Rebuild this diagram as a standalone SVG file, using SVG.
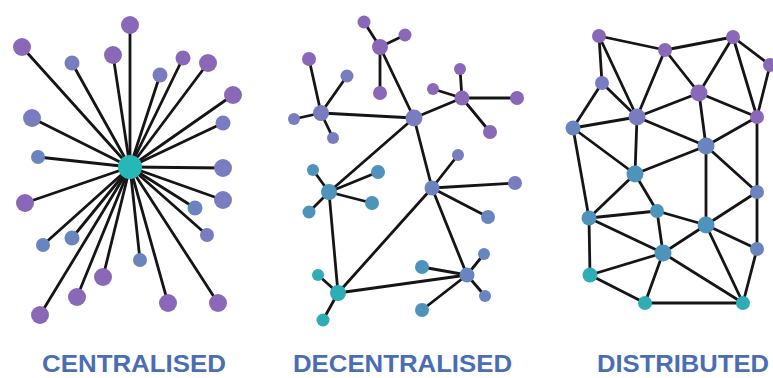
<svg xmlns="http://www.w3.org/2000/svg" width="773" height="378" viewBox="0 0 773 378">
<style>
.e line{stroke:#151515;stroke-width:2.8;stroke-linecap:round}
.p{fill:#8a68b8}
.bp{fill:#7a7cc0}
.b{fill:#6a84c0}
.tb{fill:#4d93bb}
.t{fill:#2fadb6}
.hub{fill:#25b8b5}
.lbl{font-family:"Liberation Sans",Arial,sans-serif;font-weight:bold;font-size:23px;fill:#4a6db5}
</style>
<rect width="773" height="378" fill="#ffffff"/>
<g id="connectors">
<g class="e" id="central-edges">
<line x1="130" y1="167" x2="130" y2="25"/>
<line x1="130" y1="167" x2="22" y2="47"/>
<line x1="130" y1="167" x2="72" y2="63"/>
<line x1="130" y1="167" x2="113" y2="55"/>
<line x1="130" y1="167" x2="160" y2="75"/>
<line x1="130" y1="167" x2="183" y2="58"/>
<line x1="130" y1="167" x2="208" y2="63"/>
<line x1="130" y1="167" x2="233" y2="95"/>
<line x1="130" y1="167" x2="223" y2="123"/>
<line x1="130" y1="167" x2="32" y2="118"/>
<line x1="130" y1="167" x2="38" y2="157"/>
<line x1="130" y1="167" x2="223" y2="168"/>
<line x1="130" y1="167" x2="25" y2="203"/>
<line x1="130" y1="167" x2="223" y2="200"/>
<line x1="130" y1="167" x2="195" y2="208"/>
<line x1="130" y1="167" x2="207" y2="235"/>
<line x1="130" y1="167" x2="43" y2="245"/>
<line x1="130" y1="167" x2="72" y2="238"/>
<line x1="130" y1="167" x2="140" y2="260"/>
<line x1="130" y1="167" x2="103" y2="277"/>
<line x1="130" y1="167" x2="77" y2="297"/>
<line x1="130" y1="167" x2="168" y2="303"/>
<line x1="130" y1="167" x2="218" y2="303"/>
<line x1="130" y1="167" x2="40" y2="315"/>
</g>
<g class="e" id="decentral-edges">
<line x1="380" y1="47" x2="364" y2="22"/>
<line x1="380" y1="47" x2="405" y2="35"/>
<line x1="380" y1="47" x2="380" y2="93"/>
<line x1="380" y1="47" x2="414" y2="118"/>
<line x1="321" y1="113" x2="309" y2="59"/>
<line x1="321" y1="113" x2="347" y2="76"/>
<line x1="321" y1="113" x2="294" y2="119"/>
<line x1="321" y1="113" x2="333" y2="138"/>
<line x1="321" y1="113" x2="414" y2="118"/>
<line x1="414" y1="118" x2="462" y2="98"/>
<line x1="462" y1="98" x2="460" y2="69"/>
<line x1="462" y1="98" x2="433" y2="89"/>
<line x1="462" y1="98" x2="517" y2="98"/>
<line x1="462" y1="98" x2="490" y2="132"/>
<line x1="414" y1="118" x2="329" y2="192"/>
<line x1="414" y1="118" x2="432" y2="188"/>
<line x1="329" y1="192" x2="313" y2="170"/>
<line x1="329" y1="192" x2="378" y2="172"/>
<line x1="329" y1="192" x2="372" y2="203"/>
<line x1="329" y1="192" x2="309" y2="212"/>
<line x1="329" y1="192" x2="338" y2="293"/>
<line x1="432" y1="188" x2="458" y2="155"/>
<line x1="432" y1="188" x2="515" y2="183"/>
<line x1="432" y1="188" x2="488" y2="217"/>
<line x1="432" y1="188" x2="338" y2="293"/>
<line x1="432" y1="188" x2="467" y2="275"/>
<line x1="467" y1="275" x2="422" y2="267"/>
<line x1="467" y1="275" x2="484" y2="254"/>
<line x1="467" y1="275" x2="485" y2="296"/>
<line x1="467" y1="275" x2="422" y2="310"/>
<line x1="467" y1="275" x2="338" y2="293"/>
<line x1="338" y1="293" x2="318" y2="275"/>
<line x1="338" y1="293" x2="323" y2="320"/>
</g>
<g class="e" id="distributed-edges">
<line x1="599" y1="36" x2="665" y2="50"/>
<line x1="665" y1="50" x2="733" y2="37"/>
<line x1="733" y1="37" x2="770" y2="65"/>
<line x1="599" y1="36" x2="602" y2="83"/>
<line x1="599" y1="36" x2="637" y2="117"/>
<line x1="665" y1="50" x2="637" y2="117"/>
<line x1="665" y1="50" x2="699" y2="93"/>
<line x1="733" y1="37" x2="699" y2="93"/>
<line x1="733" y1="37" x2="757" y2="117"/>
<line x1="770" y1="65" x2="757" y2="117"/>
<line x1="602" y1="83" x2="637" y2="117"/>
<line x1="602" y1="83" x2="573" y2="128"/>
<line x1="573" y1="128" x2="637" y2="117"/>
<line x1="637" y1="117" x2="699" y2="93"/>
<line x1="699" y1="93" x2="757" y2="117"/>
<line x1="699" y1="93" x2="706" y2="146"/>
<line x1="637" y1="117" x2="706" y2="146"/>
<line x1="757" y1="117" x2="706" y2="146"/>
<line x1="637" y1="117" x2="635" y2="174"/>
<line x1="573" y1="128" x2="635" y2="174"/>
<line x1="573" y1="128" x2="589" y2="218"/>
<line x1="635" y1="174" x2="706" y2="146"/>
<line x1="706" y1="146" x2="706" y2="225"/>
<line x1="706" y1="146" x2="757" y2="192"/>
<line x1="757" y1="117" x2="757" y2="192"/>
<line x1="635" y1="174" x2="589" y2="218"/>
<line x1="635" y1="174" x2="657" y2="211"/>
<line x1="589" y1="218" x2="657" y2="211"/>
<line x1="657" y1="211" x2="706" y2="225"/>
<line x1="657" y1="211" x2="663" y2="253"/>
<line x1="589" y1="218" x2="663" y2="253"/>
<line x1="589" y1="218" x2="590" y2="275"/>
<line x1="706" y1="225" x2="757" y2="192"/>
<line x1="757" y1="192" x2="757" y2="249"/>
<line x1="706" y1="225" x2="757" y2="249"/>
<line x1="706" y1="225" x2="663" y2="253"/>
<line x1="706" y1="225" x2="743" y2="303"/>
<line x1="757" y1="249" x2="743" y2="303"/>
<line x1="663" y1="253" x2="590" y2="275"/>
<line x1="663" y1="253" x2="645" y2="303"/>
<line x1="663" y1="253" x2="743" y2="303"/>
<line x1="590" y1="275" x2="645" y2="303"/>
<line x1="645" y1="303" x2="743" y2="303"/>
</g>
</g>
<g id="centralised">
<circle id="c-hub" class="hub" cx="130" cy="167" r="12"/>
<g id="c-leaves">
<circle class="p" cx="130" cy="25" r="9"/>
<circle class="p" cx="22" cy="47" r="9"/>
<circle class="bp" cx="72" cy="63" r="7.5"/>
<circle class="p" cx="113" cy="55" r="9"/>
<circle class="bp" cx="160" cy="75" r="7.5"/>
<circle class="p" cx="183" cy="58" r="7.5"/>
<circle class="p" cx="208" cy="63" r="9"/>
<circle class="p" cx="233" cy="95" r="9"/>
<circle class="bp" cx="223" cy="123" r="7.5"/>
<circle class="bp" cx="32" cy="118" r="9"/>
<circle class="b" cx="38" cy="157" r="7"/>
<circle class="bp" cx="223" cy="168" r="9"/>
<circle class="p" cx="25" cy="203" r="9"/>
<circle class="bp" cx="223" cy="200" r="9"/>
<circle class="b" cx="195" cy="208" r="7.5"/>
<circle class="bp" cx="207" cy="235" r="7"/>
<circle class="b" cx="43" cy="245" r="7"/>
<circle class="b" cx="72" cy="238" r="7.5"/>
<circle class="b" cx="140" cy="260" r="7"/>
<circle class="p" cx="103" cy="277" r="9"/>
<circle class="p" cx="77" cy="297" r="9"/>
<circle class="p" cx="168" cy="303" r="9"/>
<circle class="p" cx="218" cy="303" r="9"/>
<circle class="p" cx="40" cy="315" r="9"/>
</g>
</g>
<g id="decentralised">
<g id="d-cluster-a">
<circle class="p" cx="380" cy="47" r="8"/>
<circle class="p" cx="364" cy="22" r="6.5"/>
<circle class="p" cx="405" cy="35" r="6.5"/>
<circle class="p" cx="380" cy="93" r="7"/>
</g>
<g id="d-cluster-b">
<circle class="bp" cx="321" cy="113" r="8"/>
<circle class="p" cx="309" cy="59" r="7"/>
<circle class="bp" cx="347" cy="76" r="6.5"/>
<circle class="bp" cx="294" cy="119" r="6"/>
<circle class="bp" cx="333" cy="138" r="6"/>
</g>
<g id="d-cluster-c">
<circle class="bp" cx="414" cy="118" r="8.5"/>
</g>
<g id="d-cluster-d">
<circle class="p" cx="462" cy="98" r="7.5"/>
<circle class="p" cx="460" cy="69" r="6"/>
<circle class="p" cx="433" cy="89" r="6"/>
<circle class="p" cx="517" cy="98" r="7"/>
<circle class="p" cx="490" cy="132" r="7"/>
</g>
<g id="d-cluster-e">
<circle class="tb" cx="329" cy="192" r="8"/>
<circle class="tb" cx="313" cy="170" r="6"/>
<circle class="tb" cx="378" cy="172" r="7"/>
<circle class="tb" cx="372" cy="203" r="7"/>
<circle class="tb" cx="309" cy="212" r="6.5"/>
</g>
<g id="d-cluster-f">
<circle class="b" cx="432" cy="188" r="7.5"/>
<circle class="bp" cx="458" cy="155" r="6"/>
<circle class="bp" cx="515" cy="183" r="7"/>
<circle class="b" cx="488" cy="217" r="7"/>
</g>
<g id="d-cluster-g">
<circle class="b" cx="467" cy="275" r="7.5"/>
<circle class="tb" cx="422" cy="267" r="7"/>
<circle class="b" cx="484" cy="254" r="6"/>
<circle class="b" cx="485" cy="296" r="6"/>
<circle class="tb" cx="422" cy="310" r="7"/>
</g>
<g id="d-cluster-h">
<circle class="t" cx="338" cy="293" r="8"/>
<circle class="t" cx="318" cy="275" r="6"/>
<circle class="t" cx="323" cy="320" r="6.5"/>
</g>
</g>
<g id="distributed">
<circle id="n1" class="p" cx="599" cy="36" r="7"/>
<circle id="n2" class="p" cx="665" cy="50" r="7"/>
<circle id="n3" class="p" cx="733" cy="37" r="7"/>
<circle id="n4" class="p" cx="770" cy="65" r="7"/>
<circle id="n5" class="bp" cx="602" cy="83" r="7"/>
<circle id="n6" class="p" cx="699" cy="93" r="8.5"/>
<circle id="n7" class="bp" cx="637" cy="117" r="8.5"/>
<circle id="n8" class="p" cx="757" cy="117" r="7"/>
<circle id="n9" class="b" cx="573" cy="128" r="7.5"/>
<circle id="n10" class="b" cx="706" cy="146" r="8.5"/>
<circle id="n11" class="tb" cx="635" cy="174" r="8.5"/>
<circle id="n12" class="b" cx="757" cy="192" r="7"/>
<circle id="n13" class="tb" cx="589" cy="218" r="7.5"/>
<circle id="n14" class="tb" cx="657" cy="211" r="7"/>
<circle id="n15" class="tb" cx="706" cy="225" r="8.5"/>
<circle id="n16" class="b" cx="757" cy="249" r="7"/>
<circle id="n17" class="tb" cx="663" cy="253" r="8.5"/>
<circle id="n18" class="t" cx="590" cy="275" r="7.5"/>
<circle id="n19" class="t" cx="645" cy="303" r="7"/>
<circle id="n20" class="t" cx="743" cy="303" r="7"/>
</g>
<g id="labels">
<text class="lbl" x="42" y="372" textLength="184" lengthAdjust="spacingAndGlyphs">CENTRALISED</text>
<text class="lbl" x="293" y="372" textLength="219" lengthAdjust="spacingAndGlyphs">DECENTRALISED</text>
<text class="lbl" x="597" y="372" textLength="172" lengthAdjust="spacingAndGlyphs">DISTRIBUTED</text>
</g>
</svg>
